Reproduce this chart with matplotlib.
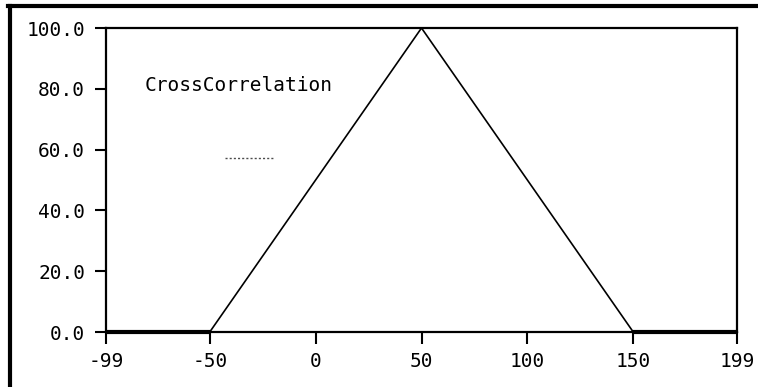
import matplotlib.pyplot as plt
from matplotlib.lines import Line2D

# triangle cross-correlation curve
lags = [-99, -50, 50, 150, 199]
corr = [0.0, 0.0, 100.0, 0.0, 0.0]
xticks = [-99, -50, 0, 50, 100, 150, 199]
yticks = [0.0, 20.0, 40.0, 60.0, 80.0, 100.0]
series_name = 'CrossCorrelation'

plt.rcParams['font.family'] = 'DejaVu Sans Mono'

fig = plt.figure(figsize=(7.58, 3.87), dpi=100)
ax = fig.add_axes([106/758, 1-332/387, 631/758, 304/387])

ax.plot(lags, corr, color='black', lw=1.2, clip_on=False)
# flat parts sit on the bottom spine and look thicker there
ax.plot(lags[:2], corr[:2], color='black', lw=3.0, clip_on=False, solid_capstyle='butt')
ax.plot(lags[3:], corr[3:], color='black', lw=3.0, clip_on=False, solid_capstyle='butt')

ax.set_xlim(-99, 199)
ax.set_ylim(0, 100)
ax.set_xticks(xticks)
ax.set_xticklabels([str(v) for v in xticks])
ax.set_yticks(yticks)
ax.set_yticklabels(['%.1f' % v for v in yticks])
ax.tick_params(direction='out', width=1.5, labelsize=14, color='black')
ax.tick_params(axis='x', length=8.5, pad=6)
ax.tick_params(axis='y', length=8, pad=7)
for s in ax.spines.values():
    s.set_linewidth(1.6)

# legend-ish label and a dotted sample line
ax.text(0.062, 0.81, series_name, transform=ax.transAxes, fontsize=14,
        va='center', ha='left')
ax.plot([0.189, 0.266], [0.572, 0.572], transform=ax.transAxes, color='black',
        lw=1.0, ls=(0, (1.5, 1.5)), alpha=0.7)

# outer frame (top and left only, as in the screenshot)
fig.add_artist(Line2D([8/758, 1], [1-6/387, 1-6/387], color='black', lw=3,
                      transform=fig.transFigure))
fig.add_artist(Line2D([9.5/758, 9.5/758], [0, 1-6/387], color='black', lw=3,
                      transform=fig.transFigure))

fig.savefig('out.png', dpi=100)
